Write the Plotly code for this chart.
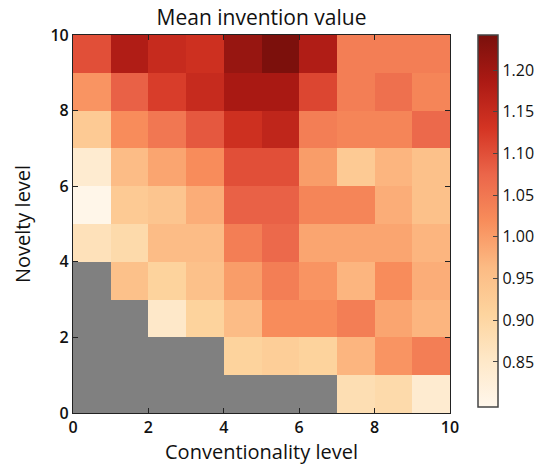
import plotly.graph_objects as go

nan = None
conventionality = [0.5, 1.5, 2.5, 3.5, 4.5, 5.5, 6.5, 7.5, 8.5, 9.5]
novelty = [0.5, 1.5, 2.5, 3.5, 4.5, 5.5, 6.5, 7.5, 8.5, 9.5]

# rows from novelty 0 (bottom) to 9 (top)
row0 = [nan, nan, nan, nan, nan, nan, nan, 0.88, 0.89, 0.84]
row1 = [nan, nan, nan, nan, 0.91, 0.92, 0.91, 0.97, 1.01, 1.04]
row2 = [nan, nan, 0.85, 0.91, 0.96, 1.02, 1.02, 1.04, 0.99, 0.97]
row3 = [nan, 0.95, 0.91, 0.95, 1.00, 1.04, 1.01, 0.97, 1.02, 0.98]
row4 = [0.87, 0.89, 0.96, 0.96, 1.04, 1.07, 0.99, 0.99, 0.99, 0.97]
row5 = [0.80, 0.93, 0.94, 0.98, 1.08, 1.08, 1.03, 1.03, 0.98, 0.95]
row6 = [0.84, 0.96, 0.99, 1.02, 1.10, 1.10, 1.00, 0.93, 0.97, 0.95]
row7 = [0.93, 1.02, 1.05, 1.09, 1.14, 1.16, 1.04, 1.03, 1.03, 1.07]
row8 = [1.01, 1.08, 1.12, 1.15, 1.19, 1.19, 1.11, 1.04, 1.06, 1.03]
row9 = [1.10, 1.18, 1.15, 1.14, 1.21, 1.24, 1.18, 1.04, 1.04, 1.04]

z = [row0, row1, row2, row3, row4, row5, row6, row7, row8, row9]
axis_ticks = [0, 2, 4, 6, 8, 10]
cbar_ticks = [0.85, 0.90, 0.95, 1.00, 1.05, 1.10, 1.15, 1.20]

colorscale = [
    [0.000, "rgb(255,247,236)"],
    [0.125, "rgb(254,232,200)"],
    [0.250, "rgb(253,212,158)"],
    [0.375, "rgb(252,187,132)"],
    [0.500, "rgb(248,141,91)"],
    [0.625, "rgb(235,102,74)"],
    [0.750, "rgb(212,52,35)"],
    [0.875, "rgb(172,26,20)"],
    [1.000, "rgb(122,16,12)"],
]

font = "Open Sans"

fig = go.Figure(go.Heatmap(
    x=conventionality, y=novelty, z=z,
    colorscale=colorscale, zmin=0.796, zmax=1.242,
    hoverongaps=False,
    colorbar=dict(
        thickness=20, len=0.984, lenmode="fraction",
        y=1, yanchor="top", x=1.074, xanchor="left", xpad=0, ypad=0,
        outlinecolor="#444", outlinewidth=1.5,
        tickvals=cbar_ticks, ticktext=[f"{v:.2f}" for v in cbar_ticks],
        ticks="inside", ticklen=5, tickcolor="#444",
        tickfont=dict(family=font, size=16, color="#111"),
    ),
))

axis_common = dict(
    range=[0, 10], tickvals=axis_ticks, ticks="inside", ticklen=5,
    tickcolor="#222", showline=True, linecolor="#222", linewidth=1.2,
    mirror="ticks", showgrid=False, zeroline=False,
    tickfont=dict(family=font, size=16, color="#111", weight=600),
)

fig.update_layout(
    width=546, height=472,
    margin=dict(l=73, r=96, t=35, b=59, autoexpand=False),
    paper_bgcolor="white", plot_bgcolor="#808080",
    title=dict(text="Mean invention value", x=0.5, xref="paper", xanchor="center",
               y=0.962, yanchor="middle",
               font=dict(family=font, size=21, color="#111")),
    xaxis=dict(title=dict(text="Conventionality level", standoff=0,
                          font=dict(family=font, size=20, color="#111")),
               **axis_common),
    yaxis=dict(title=dict(text="Novelty level", standoff=14,
                          font=dict(family=font, size=20, color="#111")),
               **axis_common),
)

fig.write_html("out.html")
